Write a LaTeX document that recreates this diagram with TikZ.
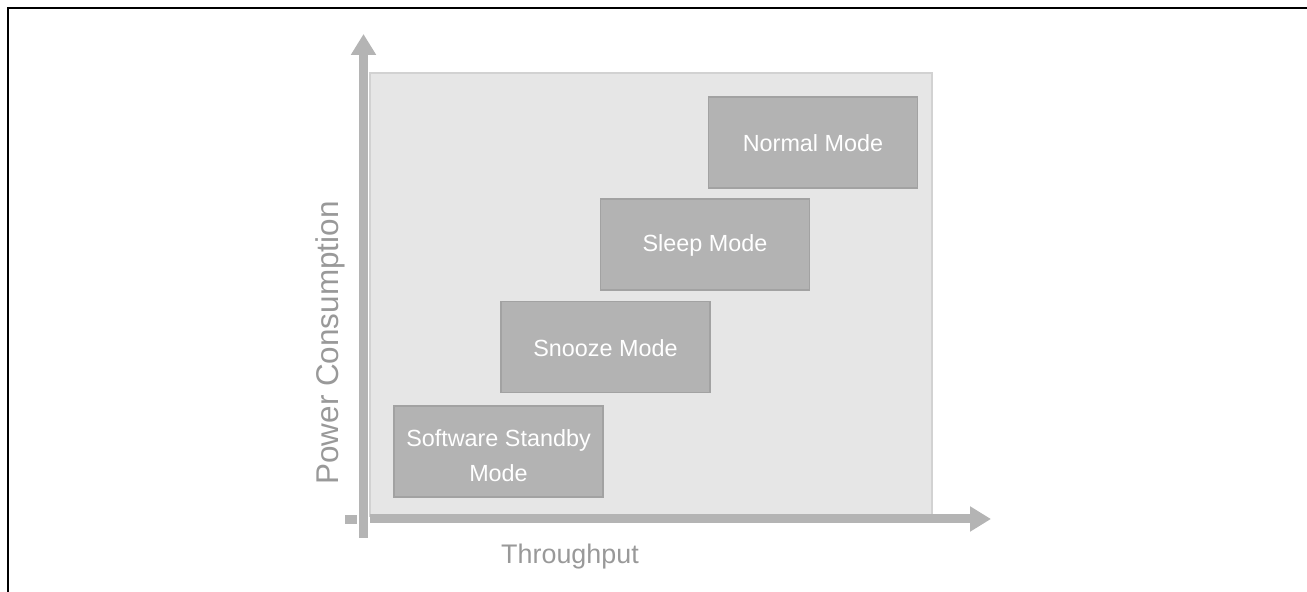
\documentclass[tikz,border=0pt]{standalone}
\usepackage{fontspec}
\setmainfont{Liberation Sans}
\usetikzlibrary{arrows.meta}

\definecolor{axisgray}{HTML}{B4B4B4}
\definecolor{panelgray}{HTML}{E6E6E6}
\definecolor{paneledge}{HTML}{D2D2D2}
\definecolor{modegray}{HTML}{B3B3B3}
\definecolor{modeedge}{HTML}{A2A2A2}
\definecolor{labelgray}{HTML}{999999}

\tikzset{
  mode/.style={fill=modegray, draw=modeedge, line width=1.1pt, minimum width=4.18cm, minimum height=1.82cm, inner sep=0pt, text=white, align=center, text height=1.05em, font=\fontsize{13.3}{20}\selectfont},
  axis/.style={axisgray, line width=0.18cm, -{Triangle[width=0.48cm,length=0.42cm]}},
  axislabel/.style={text=labelgray, inner sep=0pt}
}

\begin{document}
\begin{tikzpicture}
\useasboundingbox (0,0) rectangle (26.14, 11.84);

\draw [black, line width=1.4pt] (0.16,0) -- (0.16,11.68) -- (26.14,11.68);

\fill [panelgray] (7.40, 1.52) rectangle (18.64, 10.38);
\draw [paneledge, line width=1.1pt] (7.40, 1.52) rectangle (18.64, 10.38);

\coordinate (ybottom) at (7.27, 1.08);
\coordinate (ytip) at (7.27, 11.16);
\coordinate (xstart) at (7.40, 1.46);
\coordinate (xtip) at (19.82, 1.46);
\draw [axis] (ybottom) -- (ytip);
\draw [axis] (xstart) -- (xtip);
\fill [axisgray] (6.90, 1.36) rectangle (7.14, 1.54);

\node (standby) at (9.97, 2.81) [mode, text height=34pt] {Software Standby\\Mode};
\node (snooze) at (12.11, 4.90) [mode] {Snooze Mode};
\node (sleep) at (14.10, 6.95) [mode] {Sleep Mode};
\node (normal) at (16.26, 8.99) [mode] {Normal Mode};

\node (throughput) at (11.40, 0.56) [axislabel, anchor=base, font=\fontsize{15.3}{18}\selectfont] {Throughput};
\node (power) at (6.76, 4.98) [axislabel, anchor=base, rotate=90, font=\fontsize{17.9}{20}\selectfont] {Power Consumption};

\end{tikzpicture}
\end{document}
